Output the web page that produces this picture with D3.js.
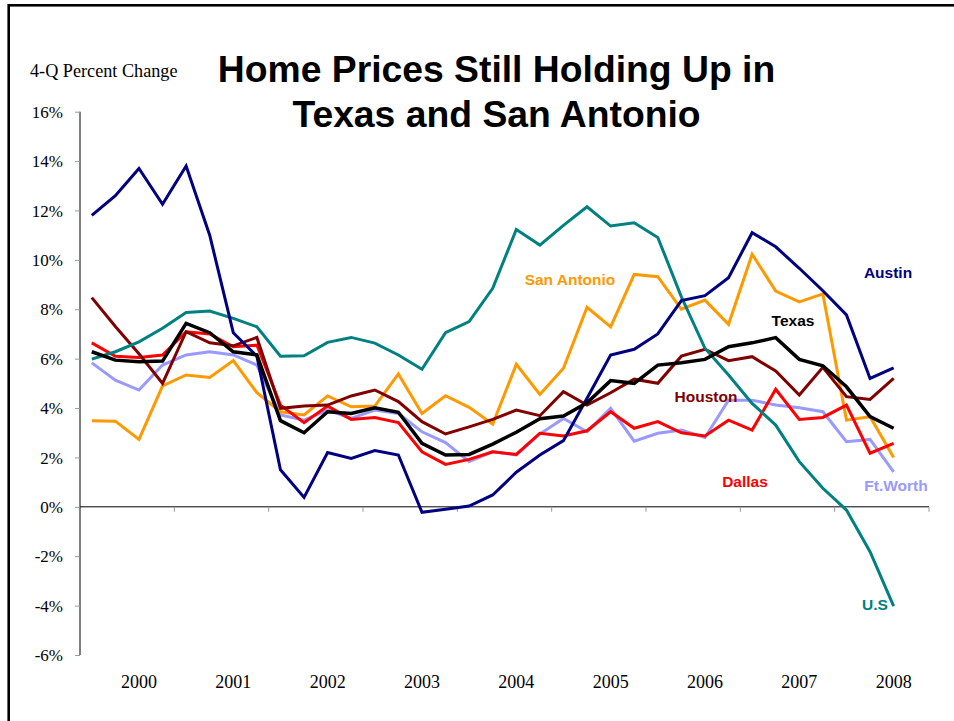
<!DOCTYPE html>
<html>
<head>
<meta charset="utf-8">
<script src="https://cdn.jsdelivr.net/npm/d3@7"></script>
<style>
  body { margin: 0; background: #fff; }
  .tick text { font-family: "Liberation Serif", "Times New Roman", serif; }
  .lbl { font-family: "Liberation Sans", Arial, sans-serif; font-weight: bold; font-size: 15.5px; }
</style>
</head>
<body>
<div id="chart"></div>
<script>
var svgWidth = 954;
var svgHeight = 721;

// quarterly data, 1999 Q3 .. 2008 Q1 (plus one empty slot at the end of the axis)
var quarters = [];
for (var yr = 1999; yr <= 2008; yr++) {
    ["Q1", "Q2", "Q3", "Q4"].forEach(q => quarters.push(yr + q));
}
quarters = quarters.slice(2, 38);

var yearLabels = ["2000", "2001", "2002", "2003", "2004", "2005", "2006", "2007", "2008"];
var yTicks = [16, 14, 12, 10, 8, 6, 4, 2, 0, -2, -4, -6];

var austin = [11.8, 12.6, 13.7, 12.25, 13.8, 11.0, 7.05, 6.1, 1.5, 0.38, 2.2, 1.96, 2.28, 2.1, -0.22, -0.1, 0.03, 0.48, 1.4, 2.1, 2.68, 4.4, 6.15, 6.38, 7.0, 8.35, 8.55, 9.28, 11.1, 10.53, 9.66, 8.75, 7.77, 5.2, 5.63];
var us = [5.98, 6.28, 6.68, 7.23, 7.87, 7.93, 7.63, 7.29, 6.1, 6.12, 6.66, 6.86, 6.63, 6.15, 5.57, 7.05, 7.5, 8.85, 11.23, 10.6, 11.4, 12.15, 11.37, 11.5, 10.91, 8.5, 6.42, 5.34, 4.19, 3.31, 1.83, 0.75, -0.13, -1.82, -4.02];
var sanAntonio = [3.49, 3.47, 2.73, 4.9, 5.34, 5.24, 5.92, 4.62, 3.85, 3.72, 4.49, 4.05, 4.08, 5.38, 3.78, 4.5, 4.03, 3.35, 5.77, 4.55, 5.61, 8.08, 7.29, 9.41, 9.32, 8.0, 8.37, 7.39, 10.23, 8.74, 8.3, 8.62, 3.51, 3.65, 2.0];
var texas = [6.28, 5.94, 5.87, 5.9, 7.43, 7.05, 6.28, 6.15, 3.49, 3.0, 3.85, 3.78, 4.01, 3.83, 2.57, 2.1, 2.12, 2.54, 3.02, 3.57, 3.68, 4.21, 5.11, 5.0, 5.74, 5.83, 5.97, 6.48, 6.64, 6.85, 5.97, 5.71, 4.86, 3.65, 3.18];
var houston = [8.47, 7.3, 6.2, 5.0, 7.09, 6.64, 6.52, 6.86, 3.99, 4.08, 4.12, 4.49, 4.73, 4.26, 3.45, 2.95, 3.24, 3.54, 3.92, 3.69, 4.66, 4.12, 4.62, 5.17, 5.0, 6.1, 6.38, 5.92, 6.08, 5.5, 4.53, 5.65, 4.46, 4.35, 5.2];
var dallas = [6.64, 6.1, 6.05, 6.15, 7.09, 7.0, 6.48, 6.55, 4.12, 3.41, 4.08, 3.54, 3.62, 3.41, 2.23, 1.72, 1.92, 2.23, 2.12, 2.98, 2.87, 3.08, 3.85, 3.18, 3.45, 3.0, 2.87, 3.51, 3.11, 4.76, 3.54, 3.62, 4.12, 2.17, 2.57];
var ftWorth = [5.83, 5.13, 4.73, 5.74, 6.15, 6.28, 6.15, 5.74, 3.72, 3.51, 3.92, 3.58, 3.92, 3.78, 3.04, 2.6, 1.83, 2.23, 2.1, 2.95, 3.58, 3.04, 3.99, 2.66, 2.98, 3.11, 2.81, 4.32, 4.32, 4.12, 4.01, 3.85, 2.64, 2.73, 1.42];

// drawing order, bottom to top
var seriesList = [
    { name: "Ft.Worth", values: ftWorth, color: "#9999ff", width: 3, lx: 896, ly: 491 },
    { name: "San Antonio", values: sanAntonio, color: "#ff9900", width: 3, lx: 570, ly: 285 },
    { name: "Dallas", values: dallas, color: "#ff0000", width: 3, lx: 745, ly: 487 },
    { name: "Houston", values: houston, color: "#800000", width: 3, lx: 706, ly: 402 },
    { name: "U.S", values: us, color: "#008080", width: 3, lx: 875, ly: 610 },
    { name: "Austin", values: austin, color: "#000080", width: 3, lx: 888, ly: 278 },
    { name: "Texas", values: texas, color: "#000000", width: 3.5, lx: 793, ly: 326 }
];

var plot = { left: 80, right: 929, top: 111.7, bottom: 655 };

var svg = d3.select("#chart")
    .append("svg")
    .attr("width", svgWidth)
    .attr("height", svgHeight);

// frame
svg.append("rect")
    .attr("x", 8.7).attr("y", 5.3)
    .attr("width", 1000).attr("height", 1000)
    .attr("fill", "none")
    .attr("stroke", "#000")
    .attr("stroke-width", 2.6);

// scales
var xScale = d3.scaleBand()
    .domain(quarters)
    .range([plot.left, plot.right])
    .paddingInner(0).paddingOuter(0);

var xMid = q => xScale(q) + xScale.bandwidth() / 2;

var yScale = d3.scaleLinear()
    .domain([-6, 16])
    .range([plot.bottom, plot.top]);

// y axis
var yAxis = svg.append("g")
    .attr("transform", `translate(${plot.left},0)`)
    .call(d3.axisLeft(yScale).tickValues(yTicks).tickSize(5).tickPadding(12)
        .tickFormat(d => d + "%"));
yAxis.select(".domain").attr("stroke", "#000").attr("d", `M0,${plot.top}V${plot.bottom}`);
yAxis.selectAll(".tick line").attr("stroke", "#999");
yAxis.selectAll(".tick text")
    .attr("font-size", 17)
    .attr("fill", "#000")
    .attr("dy", "0.33em");

// x axis at zero, ticks on year boundaries
var xAxis = svg.append("g")
    .attr("transform", `translate(0,${yScale(0)})`);
xAxis.append("line")
    .attr("x1", plot.left).attr("x2", plot.right)
    .attr("stroke", "#000");
var boundaries = quarters.filter((q, i) => i > 0 && i % 4 === 0).map(q => xScale(q));
boundaries.push(plot.right);
xAxis.selectAll(".xtick")
    .data(boundaries)
    .enter().append("line")
    .attr("x1", d => d).attr("x2", d => d)
    .attr("y1", 0).attr("y2", 5)
    .attr("stroke", "#999");

// year labels under each Q1
svg.append("g").selectAll("text")
    .data(yearLabels)
    .enter().append("text")
    .attr("x", d => xMid(d + "Q1"))
    .attr("y", 688)
    .attr("text-anchor", "middle")
    .attr("font-family", "Liberation Serif, Times New Roman, serif")
    .attr("font-size", 18)
    .text(d => d);

// lines
var line = d3.line()
    .x((d, i) => xMid(quarters[i]))
    .y(d => yScale(d));

svg.append("g").selectAll("path")
    .data(seriesList)
    .enter().append("path")
    .attr("d", d => line(d.values))
    .attr("fill", "none")
    .attr("stroke", d => d.color)
    .attr("stroke-width", d => d.width)
    .attr("stroke-linejoin", "miter");

// series labels
svg.append("g").selectAll("text")
    .data(seriesList)
    .enter().append("text")
    .classed("lbl", true)
    .attr("x", d => d.lx)
    .attr("y", d => d.ly)
    .attr("text-anchor", "middle")
    .attr("fill", d => d.color)
    .text(d => d.name);

// titles
svg.append("text")
    .attr("x", 30).attr("y", 77)
    .attr("font-family", "Liberation Serif, Times New Roman, serif")
    .attr("font-size", 18.2)
    .text("4-Q Percent Change");

var title = svg.append("text")
    .attr("text-anchor", "middle")
    .attr("font-family", "Liberation Sans, Arial, sans-serif")
    .attr("font-weight", "bold")
    .attr("font-size", 37.3);
title.append("tspan").attr("x", 496.5).attr("y", 82).text("Home Prices Still Holding Up in");
title.append("tspan").attr("x", 496.5).attr("y", 127).text("Texas and San Antonio");
</script>
</body>
</html>
